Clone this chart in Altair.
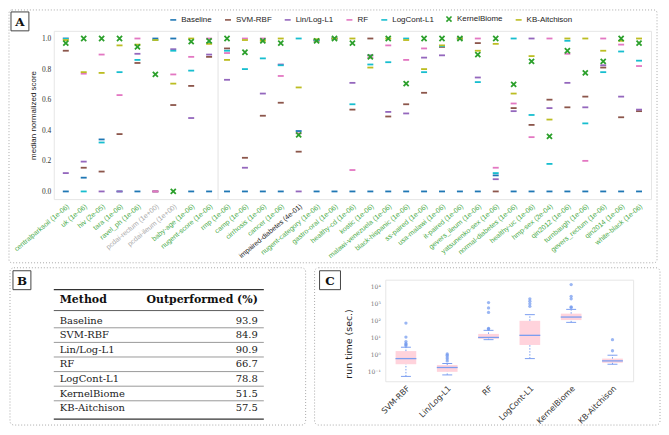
import altair as alt
import pandas as pd

# ---------------- data ----------------
methods = ["Baseline", "SVM-RBF", "Lin/Log-L1", "RF", "LogCont-L1", "KernelBiome", "KB-Aitchison"]
method_colors = ["#1f77b4", "#8c564b", "#9467bd", "#e377c2", "#17becf", "#2ca02c", "#bcbd22"]

datasets = ["centralparksoil", "uk", "hiv", "tara", "ravel_ph", "pcdai-rectum", "pcdai-ileum",
            "baby-age", "nugent-score", "rmp", "camp", "cirrhosis", "cancer", "impaired-diabetes",
            "nugent-category", "gastro-oral", "healthy-cd", "kostic", "malawi-venezuela",
            "black-hispanic", "ss-paired", "usa-malawi", "it-paired", "gevers_ileum",
            "yatsunenko-sex", "normal-diabetes", "healthy-uc", "hmp-sex", "qin2012", "turnbaugh",
            "gevers_rectum", "qin2014", "white-black"]
p_values = ["1e-06", "1e-06", "2e-05", "1e-06", "1e-06", "1e+00", "1e+00", "1e-06", "1e-06",
            "1e-06", "1e-06", "1e-06", "1e-06", "4e-01", "1e-06", "1e-06", "1e-06", "1e-06",
            "1e-06", "1e-06", "1e-06", "1e-06", "1e-06", "1e-06", "1e-06", "1e-06", "1e-06",
            "2e-04", "1e-06", "1e-06", "1e-06", "1e-06", "1e-06"]

baseline = [0.0, 0.09, 0.34, 0.0, 0.0, 1.0, 1.0, 0.0, 0.0, 0.0, 0.0, 0.0, 0.0, 0.395, 0.0, 0.0, 0.0,
            0.0, 0.0, 0.0, 0.0, 0.0, 0.0, 0.0, 0.105, 0.0, 0.0, 0.0, 0.0, 0.0, 0.0, 0.0, 0.0]
svm_rbf = [0.92, 0.155, 0.13, 0.375, 0.84, 0.0, 0.565, 0.69, 0.88, 0.935, 0.22, 0.495, 0.58, 0.26,
           0.985, 1.0, 0.535, 1.0, 0.49, 0.57, 0.645, 0.945, 1.0, 0.97, 0.0, 0.545, 0.435, 0.6,
           0.55, 0.62, 0.81, 0.485, 0.525]
lin_log_l1 = [0.12, 0.195, 0.0, 0.0, 0.9, 0.0, 0.93, 0.48, 0.895, 0.73, 0.155, 0.64, 0.83, 0.0,
              0.99, 1.0, 0.71, 0.89, 0.52, 0.51, 0.875, 0.89, 1.0, 0.745, 0.08, 0.525, 1.0, 0.545,
              0.71, 0.55, 0.825, 0.62, 0.535]
rf = [1.0, 0.77, 0.895, 0.63, 1.0, 0.0, 0.765, 0.88, 1.0, 0.905, 1.0, 1.0, 0.755, 0.38, 0.99, 1.0,
      0.14, 0.875, 0.955, 0.86, 0.935, 0.95, 1.0, 1.0, 0.155, 0.575, 0.355, 1.0, 0.9, 0.2, 1.0,
      0.96, 0.82]
logcont_l1 = [1.0, 0.0, 0.32, 0.78, 0.86, 0.99, 0.92, 0.79, 0.97, 0.92, 0.8, 0.87, 0.825, 1.0, 0.99,
              1.0, 0.57, 0.83, 0.845, 1.0, 0.78, 0.95, 1.0, 0.715, 0.12, 1.0, 0.5, 0.18, 0.985,
              0.445, 0.78, 0.915, 0.855]
kernelbiome = [0.97, 1.0, 1.0, 1.0, 0.945, 0.765, 0.0, 0.98, 0.985, 1.0, 0.91, 0.985, 0.97, 0.37,
               0.985, 1.0, 0.97, 0.88, 1.0, 0.705, 1.0, 1.0, 1.0, 0.895, 1.0, 0.7, 0.85, 0.36,
               0.92, 0.775, 0.85, 1.0, 0.97]
kb_aitchison = [0.99, 0.78, 0.775, 0.955, 0.96, 0.99, 0.705, 1.0, 0.965, 0.86, 0.99, 0.985, 1.0,
                0.68, 0.995, 1.0, 1.0, 0.81, 1.0, 0.99, 0.8, 0.955, 1.0, 0.92, 0.965, 0.64, 0.885,
                0.47, 1.0, 1.0, 0.92, 0.985, 1.0]

outperformed = [93.9, 84.9, 90.9, 66.7, 78.8, 51.5, 57.5]

rt_methods = ["SVM-RBF", "Lin/Log-L1", "RF", "LogCont-L1", "KernelBiome", "KB-Aitchison"]
rt_whisk_lo = [0.054, 0.066, 7.8, 0.6, 81, 0.28]
rt_q1 = [0.28, 0.10, 8.9, 3.8, 110, 0.34]
rt_median = [0.60, 0.18, 10.5, 14, 166, 0.44]
rt_q3 = [1.66, 0.25, 17, 100, 263, 0.60]
rt_whisk_hi = [2.8, 0.31, 27.5, 230, 470, 0.95]
rt_outliers = [
    [3.4, 4.0, 4.6, 6.0, 11, 74],
    [0.44, 0.58, 0.74, 0.95, 1.12],
    [33, 35.5, 310, 575, 1175],
    [710, 1000, 1410, 1950],
    [600, 660, 1950, 2750, 13500],
    [1.74, 7.8],
]

# ---------------- tables ----------------
series = {"Baseline": baseline, "SVM-RBF": svm_rbf, "Lin/Log-L1": lin_log_l1, "RF": rf,
          "LogCont-L1": logcont_l1, "KernelBiome": kernelbiome, "KB-Aitchison": kb_aitchison}
draw_order = ["Baseline", "SVM-RBF", "Lin/Log-L1", "RF", "LogCont-L1", "KB-Aitchison", "KernelBiome"]
labels = [f"{d} ({p})" for d, p in zip(datasets, p_values)]
rowsA = []
for rank, m in enumerate(draw_order):
    for lab, v in zip(labels, series[m]):
        rowsA.append({"label": lab, "method": m, "score": v, "rank": rank})
dfA = pd.DataFrame(rowsA)

dfB = pd.DataFrame({"method": methods, "value": [f"{v:.1f}" for v in outperformed]})

dfC = pd.DataFrame({"method": rt_methods, "wlo": rt_whisk_lo, "q1": rt_q1, "med": rt_median,
                    "q3": rt_q3, "whi": rt_whisk_hi})
dfO = pd.DataFrame([{"method": m, "v": v} for m, outs in zip(rt_methods, rt_outliers) for v in outs])

one = pd.DataFrame({"k": [0]})


def box(x1, x2, y1, y2, radius=4):
    return alt.Chart(one).mark_rect(fillOpacity=0, stroke="#a8a8a8", strokeWidth=1,
                                    strokeDash=[1, 2], cornerRadius=radius).encode(
        x=alt.value(x1), x2=alt.value(x2), y=alt.value(y1), y2=alt.value(y2))


def letter(ch, x1, x2, y1, y2):
    r = alt.Chart(one).mark_rect(fill="white", stroke="#444444", strokeWidth=1).encode(
        x=alt.value(x1), x2=alt.value(x2), y=alt.value(y1), y2=alt.value(y2))
    t = alt.Chart(one).mark_text(text=ch, font="DejaVu Serif", fontWeight="bold", fontSize=12,
                                 align="center", baseline="middle", color="#111111").encode(
        x=alt.value((x1 + x2) / 2), y=alt.value((y1 + y2) / 2 + 0.5))
    return r + t


# ---------------- panel A ----------------
AW, AH = 600, 169
dash = "M-1,0L1,0"
cross = "M-0.85,-0.85L0.85,0.85M-0.85,0.85L0.85,-0.85"
shapes = [dash, dash, dash, dash, dash, cross, dash]

legA = alt.Legend(title=None, orient="none", legendX=116, legendY=-16, direction="horizontal",
                  columns=7, labelFont="Liberation Sans", labelFontSize=8, labelColor="#222222",
                  symbolSize=36, symbolStrokeWidth=1.6, columnPadding=9, labelOffset=4, padding=0)

xA = alt.Scale(type="band", domain=labels, paddingInner=0, paddingOuter=0.17)
label_color = {"condition": [{"test": "indexof(datum.value, 'pcdai') >= 0", "value": "#aaaaaa"},
                             {"test": "indexof(datum.value, 'impaired') >= 0", "value": "#1a1a1a"}],
               "value": "#4aab4a"}
axisXA = alt.Axis(labelAngle=-40, labelFont="Liberation Sans", labelFontSize=7,
                  labelColor=label_color, ticks=False, domain=False, labelPadding=3, title=None,
                  labelOverlap=False, labelLimit=0, grid=False)
axisYA = alt.Axis(values=[0, 0.2, 0.4, 0.6, 0.8, 1.0], format=".1f", labelFont="Liberation Serif",
                  labelFontSize=7.5, labelColor="#333333", ticks=False, domain=False, grid=False,
                  title="median normalized score", titleFont="Liberation Sans", titleFontSize=8,
                  titleFontWeight="normal", titleColor="#222222", titlePadding=4, labelPadding=3)

sepA = alt.Chart(pd.DataFrame({"label": ["rmp (1e-06)"]})).mark_rule(
    color="#e2e2e2", strokeWidth=1).encode(
    x=alt.X("label:N", bandPosition=0, scale=xA, axis=axisXA),
    y=alt.value(0), y2=alt.value(AH))

ptsA = alt.Chart(dfA).mark_point(filled=False, size=36, strokeWidth=1.8, opacity=1).encode(
    x=alt.X("label:N", scale=xA, axis=axisXA, sort=labels),
    y=alt.Y("score:Q", scale=alt.Scale(domain=[-0.05, 1.05], nice=False, zero=False), axis=axisYA),
    color=alt.Color("method:N", scale=alt.Scale(domain=methods, range=method_colors), legend=legA),
    shape=alt.Shape("method:N", scale=alt.Scale(domain=methods, range=shapes), legend=legA),
    order=alt.Order("rank:Q"),
)

panelA = alt.layer(
    box(-45, 606, -21, 233, radius=3), sepA, ptsA, letter("A", -43, -25, -19, 0)
).properties(width=AW, height=AH)

# ---------------- panel B ----------------
BW, BH = 211, 140
T0 = 10  # offset of the table's top rule inside panel B
yB = alt.Scale(type="point", domain=methods, range=[T0 + 31, T0 + 119], padding=0)
serif = "DejaVu Serif"


def hrule(y, w):
    return alt.Chart(one).mark_rule(color="#333333", strokeWidth=w).encode(
        x=alt.value(0), x2=alt.value(BW), y=alt.value(y))


def header(t, x, align):
    return alt.Chart(one).mark_text(text=t, font=serif, fontSize=11, fontWeight="bold",
                                    align=align, baseline="middle", color="#111111").encode(
        x=alt.value(x), y=alt.value(T0 + 10.5))


namesB = alt.Chart(dfB).mark_text(align="left", baseline="middle", font=serif, fontSize=10,
                                  color="#222222").encode(
    x=alt.value(6), y=alt.Y("method:N", scale=yB, axis=None), text="method:N")
valsB = alt.Chart(dfB).mark_text(align="right", baseline="middle", font=serif, fontSize=10,
                                 color="#222222").encode(
    x=alt.value(205), y=alt.Y("method:N", scale=yB, axis=None), text="value:N")
sepB = alt.Chart(dfB.iloc[:-1]).mark_rule(yOffset=7.3, color="#555555", strokeWidth=0.6).encode(
    x=alt.value(0), x2=alt.value(BW), y=alt.Y("method:N", scale=yB, axis=None))

panelB = alt.layer(
    box(-44, 253, -12, 146), hrule(T0, 1.4), header("Method", 6, "left"),
    header("Outperformed (%)", 205, "right"), hrule(T0 + 21, 0.8), sepB, namesB, valsB,
    hrule(T0 + 130, 1.4), letter("B", -41, -23, -9, 10)
).properties(width=BW, height=BH, view=alt.ViewBackground(stroke="transparent"))

# ---------------- panel C ----------------
CW, CH = 249, 102
xC = alt.Scale(type="band", domain=rt_methods, paddingInner=0, paddingOuter=0)
yC = alt.Scale(type="log", domain=[0.028, 26000], nice=False)
blue = "#7b9ef0"
axisXC = alt.Axis(labelAngle=-45, labelFont="DejaVu Sans", labelFontSize=8, labelColor="#333333",
                  ticks=False, domain=False, title=None, labelPadding=3, grid=False)
axisYC = alt.Axis(values=[0.1, 1, 10, 100, 1000, 10000],
                  labelExpr="datum.value < 0.5 ? '10⁻¹' : datum.value < 5 ? '10⁰' : "
                            "datum.value < 50 ? '10¹' : datum.value < 500 ? '10²' : "
                            "datum.value < 5000 ? '10³' : '10⁴'",
                  labelFont="DejaVu Serif", labelFontSize=6, labelColor="#777777", ticks=False,
                  domain=False, grid=False, labelPadding=5, title="run time (sec.)",
                  titleFont="DejaVu Sans", titleFontSize=9.5, titleFontWeight="normal",
                  titleColor="#222222", titlePadding=14, titleY=64)

baseC = alt.Chart(dfC).encode(x=alt.X("method:N", scale=xC, axis=axisXC, sort=rt_methods))
boxC = baseC.mark_bar(width=alt.RelativeBandSize(0.5), color="#ffd3dc").encode(
    y=alt.Y("q1:Q", scale=yC, axis=axisYC), y2="q3:Q")
wloC = baseC.mark_rule(color=blue, strokeDash=[1.5, 1.5], strokeWidth=1).encode(
    y=alt.Y("wlo:Q", scale=yC, axis=axisYC), y2="q1:Q")
whiC = baseC.mark_rule(color=blue, strokeDash=[1.5, 1.5], strokeWidth=1).encode(
    y=alt.Y("q3:Q", scale=yC, axis=axisYC), y2="whi:Q")
capLo = baseC.mark_tick(color=blue, size=10, thickness=1, opacity=1).encode(
    y=alt.Y("wlo:Q", scale=yC, axis=axisYC))
capHi = baseC.mark_tick(color=blue, size=10, thickness=1, opacity=1).encode(
    y=alt.Y("whi:Q", scale=yC, axis=axisYC))
medC = baseC.mark_tick(color=blue, size=21, thickness=1.3, opacity=1).encode(
    y=alt.Y("med:Q", scale=yC, axis=axisYC))
outC = alt.Chart(dfO).mark_circle(size=11, color="#6f97ee", opacity=0.7).encode(
    x=alt.X("method:N", scale=xC, axis=axisXC, sort=rt_methods),
    y=alt.Y("v:Q", scale=yC, axis=axisYC))

panelC = alt.layer(
    box(-71, 276, -12, 146), boxC, wloC, whiC, capLo, capHi, medC, outC,
    letter("C", -66, -45, -9, 10)
).properties(width=CW, height=CH)

chart = alt.vconcat(
    panelA, alt.hconcat(panelB, panelC, spacing=7), spacing=3
).properties(padding=0).configure(background="white").configure_view(stroke="#e6e6e6")

chart.save("out.html", embed_options={"renderer": "svg", "actions": False})
